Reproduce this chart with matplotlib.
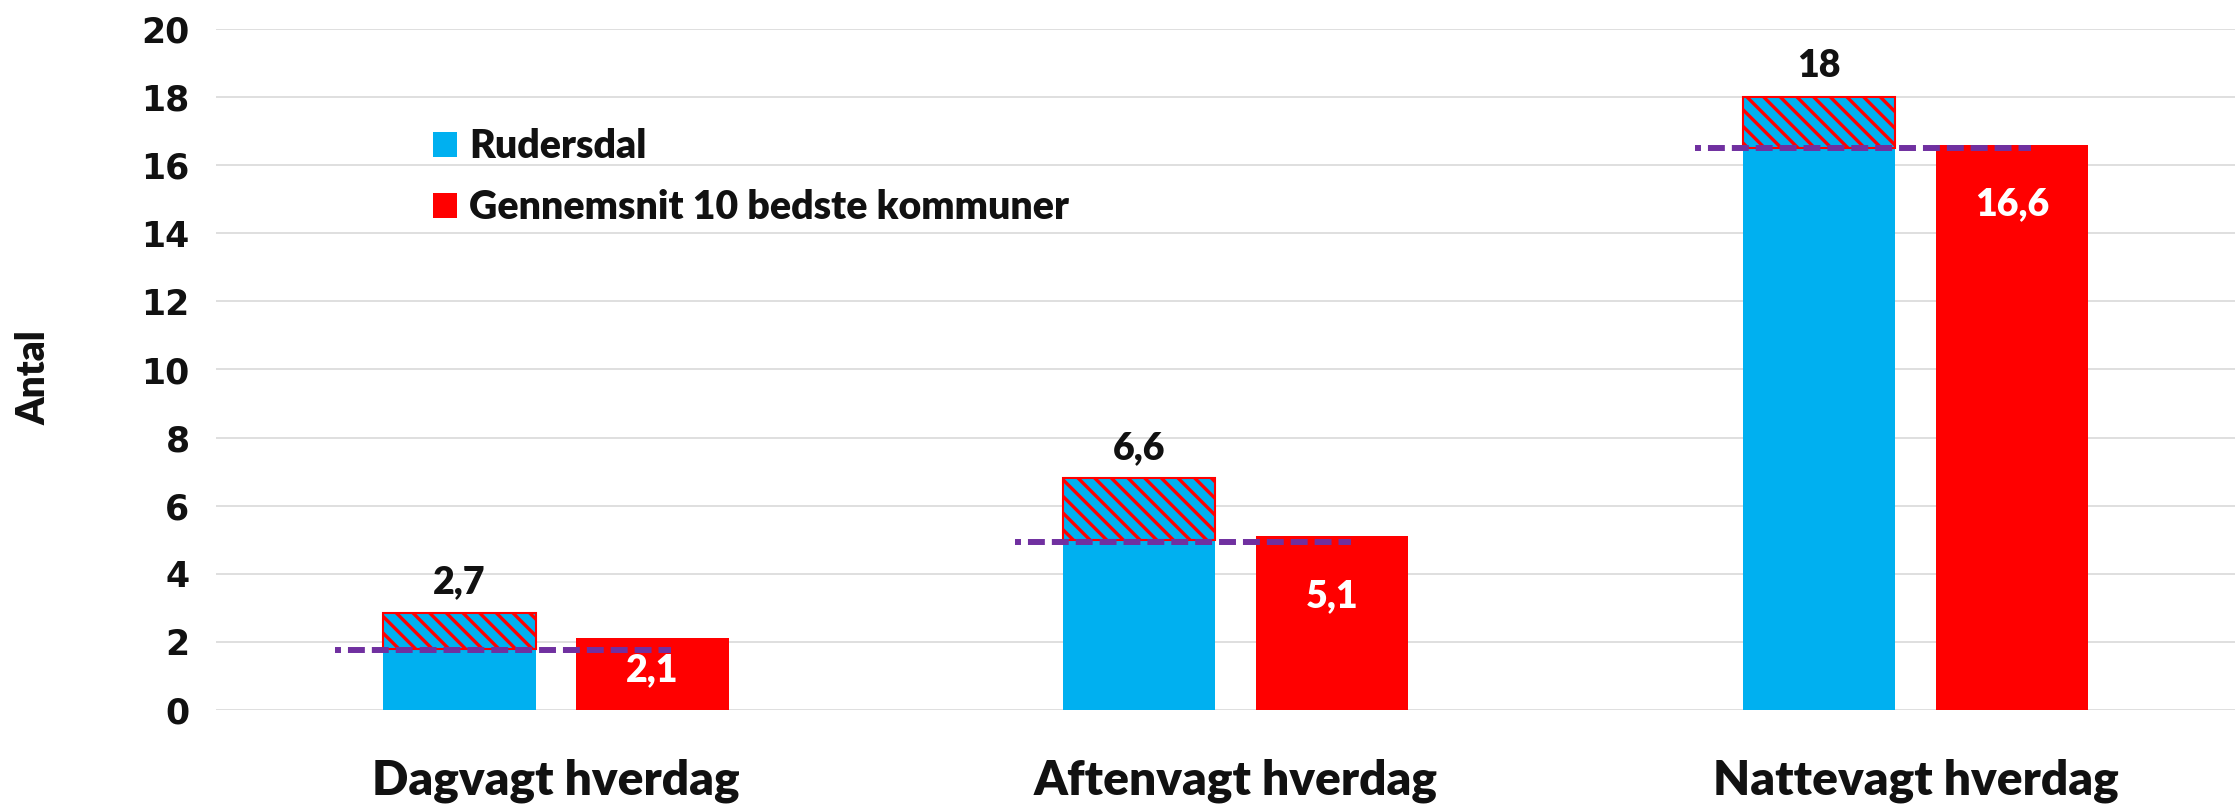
import numpy as np
import matplotlib
matplotlib.use("Agg")
import matplotlib.pyplot as plt
from matplotlib.patches import Patch

# data
categories = ["Dagvagt hverdag", "Aftenvagt hverdag", "Nattevagt hverdag"]
rudersdal_base = [1.8, 5.0, 16.5]        # solid blue part
rudersdal_top = [2.85, 6.8, 18.0]        # top of the hatched box
rudersdal_labels = ["2,7", "6,6", "18"]
best10 = [2.1, 5.1, 16.6]
best10_labels = ["2,1", "5,1", "16,6"]
ref_line = [1.76, 4.92, 16.5]            # dashed purple level

BLUE = "#00B0F0"
RED = "#FF0000"
PURPLE = "#7030A0"
TXT = "#111111"
GRID = "#D9D9D9"

plt.rcParams["font.family"] = ["Lato", "DejaVu Sans"]
plt.rcParams["hatch.linewidth"] = 2.4
plt.rcParams["hatch.color"] = RED

W, H = 2235, 805
fig = plt.figure(figsize=(W / 100, H / 100), dpi=100)
ax = fig.add_axes([216 / W, 95 / H, (W - 216) / W, (710 - 29) / H])

x = np.arange(len(categories))
bw = 0.224
off = 0.142

base = np.array(rudersdal_base)
top = np.array(rudersdal_top)
b10 = np.array(best10)

ax.bar(x - off, base, bw, color=BLUE, zorder=2)
ax.bar(x - off, top - base, bw, bottom=base, color=BLUE, edgecolor=RED,
       linewidth=1.5, hatch="\\\\", zorder=3)
ax.bar(x + off, b10, bw, color=RED, zorder=2)

# dashed reference lines
for xi, yv in zip(x, ref_line):
    ax.plot([xi - 0.325, xi + 0.17], [yv, yv], color=PURPLE, lw=4.3,
            linestyle=(1.83, (2.83, 1.17)), dash_capstyle="butt", zorder=4)

# value labels
for xi, t, lab in zip(x, top, rudersdal_labels):
    ax.text(xi - off, t + 0.9, lab, ha="center", va="center",
            fontsize=27, fontweight="heavy", color=TXT)
for xi, v, lab in zip(x, b10, best10_labels):
    ax.text(xi + off, max(v - 1.75, 1.17), lab, ha="center", va="center",
            fontsize=27, fontweight="heavy", color="white", zorder=5)

ax.set_xlim(-0.5, 2.47)
ax.set_ylim(0, 20)
ax.set_yticks(np.arange(0, 21, 2))
ax.set_yticklabels([str(v) for v in range(0, 21, 2)], family="DejaVu Sans",
                   fontweight="bold", fontsize=25, color=TXT)
ax.tick_params(axis="y", length=0, pad=19)
ax.set_xticks(x)
ax.set_xticklabels(categories, fontsize=34.5, fontweight="heavy", color=TXT)
ax.tick_params(axis="x", length=0, pad=35)
ax.grid(axis="y", color=GRID, lw=1.2, zorder=0)
ax.set_axisbelow(True)
for s in ax.spines.values():
    s.set_visible(False)

fig.text(34 / W, 1 - 378 / H, "Antal", rotation=90, ha="center", va="center",
         fontsize=28, fontweight="heavy", color=TXT)

handles = [Patch(facecolor=BLUE), Patch(facecolor=RED)]
ax.legend(handles, ["Rudersdal", "Gennemsnit 10 bedste kommuner"],
          loc="upper left", bbox_to_anchor=(433 / W, 1 - 128 / H),
          bbox_transform=fig.transFigure, frameon=False,
          prop={"size": 28.3, "weight": "heavy"}, labelcolor=TXT,
          borderpad=0, borderaxespad=0, handlelength=0.62, handleheight=0.6,
          handletextpad=0.3, labelspacing=0.62)

fig.savefig("out.png", dpi=100)
